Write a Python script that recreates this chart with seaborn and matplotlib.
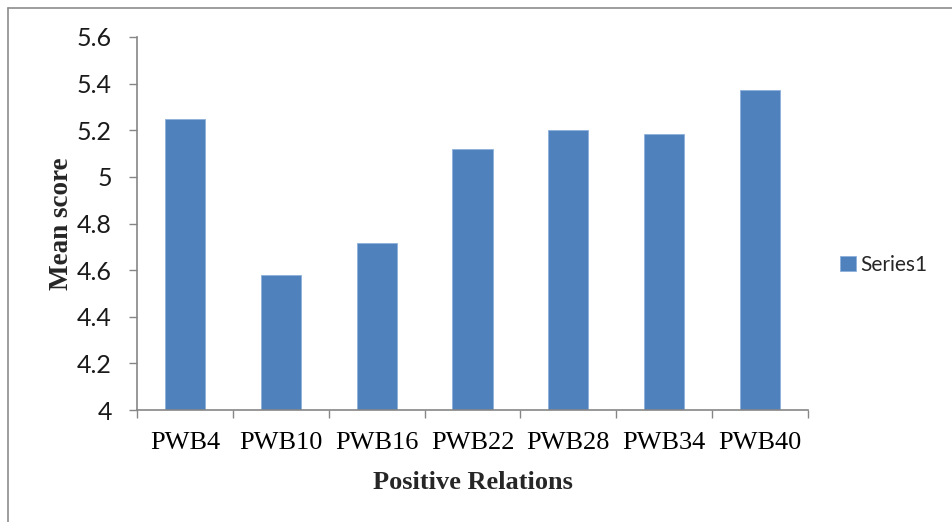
import matplotlib
matplotlib.use("Agg")
import matplotlib.pyplot as plt
import seaborn as sns
import pandas as pd
from matplotlib.lines import Line2D

categories = ["PWB4", "PWB10", "PWB16", "PWB22", "PWB28", "PWB34", "PWB40"]
mean_scores = [5.25, 4.58, 4.715, 5.12, 5.20, 5.183, 5.373]
series_name = "Series1"
y_ticks = [4, 4.2, 4.4, 4.6, 4.8, 5, 5.2, 5.4, 5.6]
y_tick_labels = ["4", "4.2", "4.4", "4.6", "4.8", "5", "5.2", "5.4", "5.6"]

BAR_COLOR = "#4F81BD"
AXIS_COLOR = "#868686"

sns.set_theme(style="white")

df = pd.DataFrame({"item": categories, "score": mean_scores, "series": series_name})

fig = plt.figure(figsize=(9.52, 5.22), dpi=100)
ax = fig.add_axes([137 / 952, 1 - 410 / 522, (808 - 137) / 952, (410 - 37) / 522])

sns.barplot(data=df, x="item", y="score", hue="series", palette=[BAR_COLOR],
            saturation=1, width=0.42, ax=ax, edgecolor="#8DB0DA", linewidth=0.6,
            legend=True)

ax.set_ylim(4, 5.6)
ax.set_xlim(-0.5, len(categories) - 0.5)
ax.set_yticks(y_ticks)
ax.set_yticklabels(y_tick_labels, fontsize=18, family=["Lato", "DejaVu Sans"], color="#1a1a1a")
ax.set_xticks(range(len(categories)))
ax.set_xticklabels(categories, fontsize=19, family=["Liberation Serif"], color="black")
ax.set_xticks([i - 0.5 for i in range(len(categories) + 1)], minor=True)

ax.tick_params(axis="x", which="major", length=0, pad=16)
ax.tick_params(axis="x", which="minor", length=6, width=1, color=AXIS_COLOR, direction="out")
ax.tick_params(axis="y", which="major", length=6, width=1, color=AXIS_COLOR, direction="out", pad=12)
ax.xaxis.set_ticks_position("bottom")
ax.yaxis.set_ticks_position("left")

for side in ["top", "right"]:
    ax.spines[side].set_visible(False)
for side in ["left", "bottom"]:
    ax.spines[side].set_color(AXIS_COLOR)
    ax.spines[side].set_linewidth(1.2)

ax.set_xlabel("Positive Relations", fontsize=19, fontweight="bold",
              family=["Liberation Serif"], labelpad=12)
ax.set_ylabel("Mean score", fontsize=19.5, fontweight="bold",
              family=["Liberation Serif"], labelpad=2)

leg = ax.legend(loc="center left", bbox_to_anchor=(1.02, 0.39), frameon=False,
                handlelength=0.75, handleheight=0.75, handletextpad=0.2,
                prop={"family": ["Lato", "DejaVu Sans"], "size": 15})

# chart outer border (only top and left edges visible in the reference)
fig.add_artist(Line2D([7.5 / 952, 7.5 / 952], [0, 1 - 7.5 / 522],
                      transform=fig.transFigure, color="#8c8c8c", lw=1.2))
fig.add_artist(Line2D([7.5 / 952, 1], [1 - 7.5 / 522, 1 - 7.5 / 522],
                      transform=fig.transFigure, color="#8c8c8c", lw=1.2))

fig.savefig("out.png", dpi=100)
